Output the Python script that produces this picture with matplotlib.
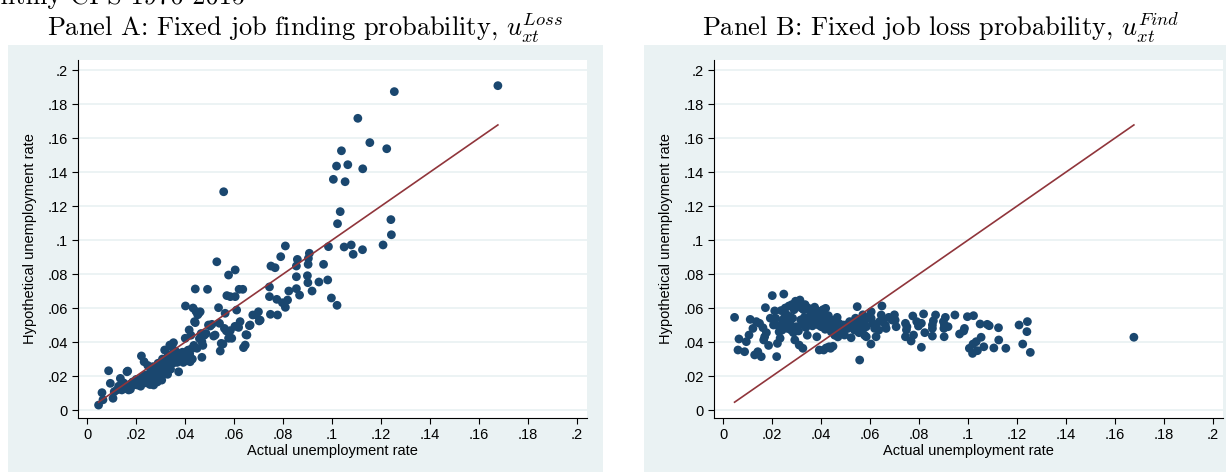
import matplotlib
matplotlib.use("Agg")
import matplotlib.pyplot as plt
from matplotlib.patches import Rectangle
from matplotlib.ticker import FuncFormatter, MultipleLocator

# ---------------- data ----------------
actual_rate = [
    # x < .021
    .0046, .0060, .0064, .0087, .0094, .0105, .0110, .0121, .0128, .0135, .0141,
    .0148, .0155, .0162, .0165, .0169, .0172, .0176, .0185, .0192, .0200, .0205,
    # .021 - .035
    .0210, .0214, .0218, .0221, .0225, .0228, .0232, .0236, .0240, .0243, .0247,
    .0250, .0253, .0256, .0259, .0262, .0265, .0268, .0271, .0274, .0277, .0280,
    .0283, .0286, .0289, .0292, .0295, .0298, .0301, .0304, .0307, .0310, .0313,
    .0316, .0319, .0322, .0325, .0328, .0331, .0334, .0337, .0340, .0343, .0346,
    .0349, .0352,
    # .035 - .05
    .0355, .0358, .0361, .0364, .0367, .0370, .0373, .0376, .0379, .0382, .0386,
    .0389, .0392, .0395, .0398, .0400, .0401, .0404, .0407, .0410, .0412, .0414,
    .0416, .0418, .0420, .0423, .0426, .0429, .0432, .0435, .0438, .0441, .0441,
    .0444, .0448, .0451, .0455, .0458, .0461, .0465, .0468, .0468, .0472, .0478,
    .0485, .0491, .0495,
    # .05 - .074
    .0502, .0509, .0516, .0522, .0529, .0536, .0540, .0543, .0547, .0554, .0557,
    .0560, .0563, .0568, .0570, .0577, .0577, .0584, .0584, .0590, .0603, .0604,
    .0604, .0610, .0618, .0620, .0624, .0635, .0638, .0645, .0648, .0652, .0662,
    .0665, .0676, .0690, .0699, .0702, .0706,
    # .074 - .1
    .0744, .0744, .0748, .0750, .0767, .0774, .0777, .0790, .0797, .0809, .0809,
    .0818, .0823, .0854, .0854, .0854, .0858, .0867, .0899, .0901, .0902, .0903,
    .0907, .0918, .0946, .0965, .0982, .0985, .0997,
    # > .1
    .1005, .1018, .1020, .1022, .1033, .1038, .1049, .1053, .1064, .1078, .1086,
    .1105, .1124, .1125, .1154, .1208, .1223, .1240, .1242, .1254, .1677,
]

hyp_fixed_finding = [
    .0029, .0102, .0060, .0231, .0157, .0069, .0108, .0118, .0140, .0186, .0118,
    .0160, .0127, .0225, .0229, .0118, .0150, .0122, .0165, .0148, .0180, .0147,
    .0176, .0158, .0140, .0318, .0195, .0172, .0284, .0205, .0160, .0188, .0262,
    .0175, .0210, .0150, .0232, .0196, .0170, .0255, .0147, .0220, .0235, .0185,
    .0205, .0165, .0275, .0228, .0200, .0255, .0190, .0176, .0300, .0215, .0245,
    .0353, .0270, .0230, .0290, .0210, .0325, .0262, .0382, .0240, .0300, .0370,
    .0275, .0396,
    .0330, .0290, .0345, .0310, .0280, .0335, .0225, .0300, .0320, .0290, .0314,
    .0340, .0280, .0300, .0330, .0422, .0612, .0290, .0314, .0350, .0300, .0353,
    .0471, .0330, .0284, .0440, .0360, .0300, .0600, .0380, .0520, .0514, .0712,
    .0580, .0363, .0560, .0569, .0420, .0578, .0450, .0402, .0310, .0380, .0440,
    .0450, .0710, .0500,
    .0494, .0504, .0435, .0441, .0872, .0602, .0510, .0347, .0392, .0388, .1284,
    .0480, .0569, .0465, .0673, .0794, .0422, .0467, .0667, .0422, .0492, .0824,
    .0667, .0588, .0486, .0710, .0520, .0710, .0367, .0382, .0443, .0441, .0496,
    .0500, .0559, .0559, .0578, .0524, .0529,
    .0724, .0667, .0563, .0847, .0837, .0651, .0559, .0902, .0631, .0965, .0604,
    .0647, .0700, .0784, .0714, .0847, .0886, .0676, .0790, .0749, .0857, .0892,
    .0922, .0700, .0753, .0857, .0765, .0961, .0659,
    .1357, .1435, .0616, .1096, .1167, .1525, .0959, .1343, .1443, .0971, .0916,
    .1716, .0943, .1419, .1573, .0971, .1537, .1120, .1031, .1873, .1908,
]

hyp_fixed_loss = [
    .0545, .0353, .0418, .0343, .0402, .0441, .0533, .0480, .0324, .0520, .0343,
    .0510, .0314, .0484, .0412, .0431, .0602, .0455, .0380, .0540, .0673, .0500,
    .0583, .0540, .0314, .0392, .0497, .0460, .0422, .0585, .0470, .0529, .0682,
    .0545, .0600, .0495, .0560, .0480, .0520, .0612, .0550, .0505, .0470, .0620,
    .0540, .0455, .0590, .0412, .0640, .0490, .0610, .0628, .0465, .0382, .0647,
    .0530, .0600, .0505, .0363, .0590, .0545, .0620, .0485, .0510, .0440, .0600,
    .0530, .0585,
    .0550, .0520, .0580, .0495, .0560, .0545, .0605, .0510, .0570, .0431, .0550,
    .0500, .0353, .0580, .0530, .0490, .0560, .0520, .0590, .0353, .0540, .0500,
    .0475, .0598, .0365, .0530, .0510, .0555, .0372, .0490, .0363, .0460, .0530,
    .0480, .0375, .0500, .0440, .0520, .0470, .0545, .0430, .0490, .0510, .0480,
    .0455, .0500, .0441,
    .0500, .0480, .0520, .0425, .0510, .0470, .0540, .0490, .0608, .0455, .0294,
    .0520, .0500, .0471, .0560, .0520, .0440, .0431, .0490, .0545, .0388, .0578,
    .0540, .0510, .0480, .0500, .0431, .0470, .0520, .0559, .0612, .0530, .0500,
    .0480, .0545, .0529, .0560, .0529, .0490,
    .0431, .0510, .0471, .0490, .0406, .0553, .0441, .0520, .0494, .0510, .0369,
    .0565, .0455, .0500, .0480, .0435, .0525, .0559, .0520, .0480, .0431, .0500,
    .0545, .0490, .0559, .0447, .0465, .0480, .0549,
    .0363, .0333, .0388, .0555, .0402, .0349, .0506, .0428, .0372, .0504, .0496,
    .0365, .0484, .0412, .0363, .0500, .0388, .0461, .0520, .0339, .0428,
]

panel_titles = [r"Panel A: Fixed job finding probability, $u_{xt}^{Loss}$",
                r"Panel B: Fixed job loss probability, $u_{xt}^{Find}$"]
x_label = "Actual unemployment rate"
y_label = "Hypothetical unemployment rate"
top_text = "Monthly CPS 1976-2015"

# ---------------- style ----------------
W, H = 1226, 472
BG = "#EAF2F3"
GRID = "#EAF2F3"
NAVY = "#1A476F"
MAROON = "#90353B"
SANS = ["Liberation Sans", "DejaVu Sans"]

plt.rcParams["mathtext.fontset"] = "cm"

fig = plt.figure(figsize=(W / 100, H / 100), dpi=100)
fig.patch.set_facecolor("white")

def fx(px):
    return px / W

def fy(py):
    return 1 - py / H

# gray graph regions
for left, right in [(8, 603), (644, 1239)]:
    fig.patches.append(Rectangle((fx(left), 0), fx(right - left), fy(45),
                                 transform=fig.transFigure, facecolor=BG,
                                 edgecolor="none", zorder=-10))

# cut-off header
fig.text(fx(245), fy(4), top_text, ha="right", va="baseline",
         fontsize=19, family="cmr10", color="black", zorder=5)

def tick_fmt(v, pos):
    if abs(v) < 1e-9:
        return "0"
    s = f"{v:.2f}".rstrip("0")
    return s.lstrip("0")

def make_panel(left_px, yvals, title, center_px):
    ax = fig.add_axes([fx(left_px), fy(418), fx(509), (418 - 60) / H])
    ax.set_zorder(2)
    ax.set_facecolor("white")
    ax.set_xlim(-0.0038, 0.2041)
    ax.set_ylim(-0.0047, 0.2059)
    ax.xaxis.set_major_locator(MultipleLocator(0.02))
    ax.yaxis.set_major_locator(MultipleLocator(0.02))
    ax.xaxis.set_major_formatter(FuncFormatter(tick_fmt))
    ax.yaxis.set_major_formatter(FuncFormatter(tick_fmt))
    ax.grid(axis="y", color=GRID, linewidth=1.3, zorder=0)
    ax.set_axisbelow(True)
    for s in ["top", "right"]:
        ax.spines[s].set_visible(False)
    for s in ["left", "bottom"]:
        ax.spines[s].set_color("black")
        ax.spines[s].set_linewidth(0.8)
    ax.tick_params(axis="both", direction="out", length=4, width=0.8,
                   color="black", labelsize=10.5, pad=3.5)
    for lab in ax.get_xticklabels() + ax.get_yticklabels():
        lab.set_family(SANS)
    ax.scatter(actual_rate, yvals, s=40, color=NAVY, edgecolors="none",
               zorder=3, clip_on=False)
    lo, hi = min(actual_rate), max(actual_rate)
    ax.plot([lo, hi], [lo, hi], color=MAROON, linewidth=1.2, zorder=4)
    ax.set_xlabel(x_label, family=SANS, fontsize=10.5, labelpad=1)
    ax.set_ylabel(y_label, family=SANS, fontsize=10.5, labelpad=7)
    fig.text(fx(center_px), fy(36), title, ha="center", va="baseline",
             fontsize=19, family="cmr10", zorder=5)
    return ax

make_panel(78, hyp_fixed_finding, panel_titles[0], 305)
make_panel(714, hyp_fixed_loss, panel_titles[1], 941)

fig.savefig("out.png", dpi=100, facecolor="white")
